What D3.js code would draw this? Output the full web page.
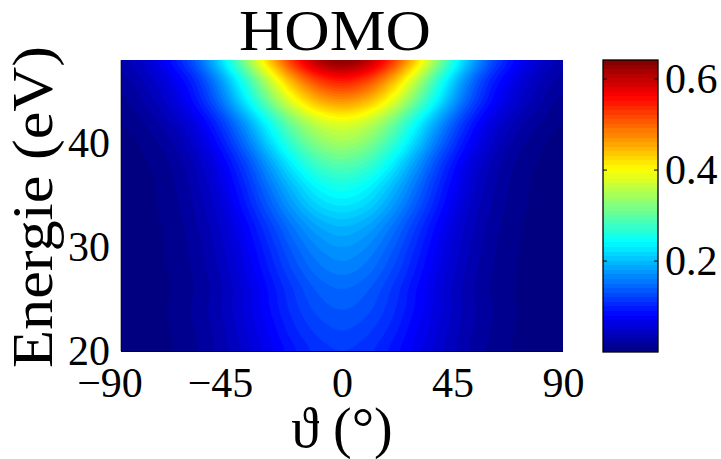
<!DOCTYPE html>
<html>
<head>
<meta charset="utf-8">
<script src="https://cdn.jsdelivr.net/npm/d3@7/dist/d3.min.js"></script>
<style>
  html, body { margin: 0; padding: 0; background: #fff; }
  svg { display: block; }
  text { font-family: "Liberation Serif", "Times New Roman", serif; fill: #000; }
</style>
</head>
<body>
<svg id="chart" width="721" height="459"></svg>
<script>
// ---------------- data ----------------
const chartTitle = "HOMO";
const xLabel = "ϑ (°)";
const yLabel = "Energie (eV)";
const thetaValues = [-90, -80, -70, -60, -50, -40, -30, -20, -10, 0, 10, 20, 30, 40, 50, 60, 70, 80, 90];
const energyValues = [20, 22, 24, 26, 28, 30, 32, 34, 36, 38, 40, 42, 44, 46, 48];
// intensity rows, one per energy (bottom to top), one value per theta
const intensity = [
  [0.002,0.004,0.009,0.018,0.033,0.052,0.075,0.097,0.114,0.120,0.114,0.097,0.075,0.052,0.033,0.018,0.009,0.004,0.002],
  [0.002,0.005,0.010,0.020,0.035,0.057,0.081,0.106,0.123,0.130,0.123,0.106,0.081,0.057,0.035,0.020,0.010,0.005,0.002],
  [0.002,0.005,0.011,0.022,0.038,0.061,0.088,0.114,0.133,0.140,0.133,0.114,0.088,0.061,0.038,0.022,0.011,0.005,0.002],
  [0.002,0.004,0.010,0.020,0.037,0.062,0.091,0.120,0.142,0.150,0.142,0.120,0.091,0.062,0.037,0.020,0.010,0.004,0.002],
  [0.002,0.005,0.011,0.022,0.041,0.068,0.100,0.132,0.156,0.165,0.156,0.132,0.100,0.068,0.041,0.022,0.011,0.005,0.002],
  [0.002,0.005,0.012,0.024,0.045,0.074,0.109,0.144,0.170,0.180,0.170,0.144,0.109,0.074,0.045,0.024,0.012,0.005,0.002],
  [0.002,0.006,0.013,0.027,0.050,0.082,0.121,0.160,0.189,0.200,0.189,0.160,0.121,0.082,0.050,0.027,0.013,0.006,0.002],
  [0.003,0.007,0.015,0.031,0.057,0.095,0.140,0.184,0.218,0.230,0.218,0.184,0.140,0.095,0.057,0.031,0.015,0.007,0.003],
  [0.003,0.007,0.017,0.035,0.065,0.107,0.158,0.208,0.246,0.260,0.246,0.208,0.158,0.107,0.065,0.035,0.017,0.007,0.003],
  [0.004,0.009,0.020,0.041,0.075,0.123,0.182,0.240,0.284,0.300,0.284,0.240,0.182,0.123,0.075,0.041,0.020,0.009,0.004],
  [0.006,0.013,0.028,0.054,0.094,0.150,0.216,0.280,0.327,0.345,0.327,0.280,0.216,0.150,0.094,0.054,0.028,0.013,0.006],
  [0.010,0.021,0.040,0.069,0.116,0.179,0.251,0.321,0.371,0.390,0.371,0.321,0.251,0.179,0.116,0.069,0.040,0.021,0.010],
  [0.016,0.032,0.056,0.093,0.150,0.226,0.311,0.391,0.449,0.470,0.449,0.391,0.311,0.226,0.150,0.093,0.056,0.032,0.016],
  [0.025,0.042,0.070,0.110,0.176,0.264,0.364,0.458,0.525,0.550,0.525,0.458,0.364,0.264,0.176,0.110,0.070,0.042,0.025],
  [0.035,0.055,0.090,0.140,0.218,0.320,0.434,0.538,0.613,0.640,0.613,0.538,0.434,0.320,0.218,0.140,0.090,0.055,0.035]
];
const xTicks = [-90, -45, 0, 45, 90];
const yTicks = [20, 30, 40];
const colorTicks = [0.2, 0.4, 0.6];
const colorRange = [0.0, 0.642];

// ---------------- layout ----------------
const plot = { left: 121, right: 563, top: 60, bottom: 351 };
const cbar = { left: 603, right: 658, top: 60, bottom: 352 };
const svg = d3.select("#chart");

const x = d3.scaleLinear().domain([d3.min(thetaValues), d3.max(thetaValues)]).range([plot.left, plot.right]);
const y = d3.scaleLinear().domain([20, 48]).range([plot.bottom, plot.top]);

function jet(f) {
  f = Math.max(0, Math.min(1, f));
  const c = v => Math.max(0, Math.min(1, v));
  const r = c(1.5 - Math.abs(4 * f - 3));
  const g = c(1.5 - Math.abs(4 * f - 2));
  const b = c(1.5 - Math.abs(4 * f - 1));
  return d3.rgb(r * 255, g * 255, b * 255).toString();
}
const colorScale = v => jet((v - colorRange[0]) / (colorRange[1] - colorRange[0]));

// ---------- filled contours (rendering grid refined with Catmull-Rom for smooth edges) ----------
const nT = thetaValues.length, nE = energyValues.length;
const k = 8;
const nx = (nT - 1) * k + 1, ny = (nE - 1) * k + 1;
function cr(p0, p1, p2, p3, t) {
  return 0.5 * ((2 * p1) + (-p0 + p2) * t + (2 * p0 - 5 * p1 + 4 * p2 - p3) * t * t + (-p0 + 3 * p1 - 3 * p2 + p3) * t * t * t);
}
const val = (e, t) => intensity[Math.max(0, Math.min(nE - 1, e))][Math.max(0, Math.min(nT - 1, t))];
function sample(ej, ti) {
  const e1 = Math.min(Math.floor(ej), nE - 2), fe = ej - e1;
  const t1 = Math.min(Math.floor(ti), nT - 2), ft = ti - t1;
  const rows = [-1, 0, 1, 2].map(de => cr(val(e1 + de, t1 - 1), val(e1 + de, t1), val(e1 + de, t1 + 1), val(e1 + de, t1 + 2), ft));
  return cr(rows[0], rows[1], rows[2], rows[3], fe);
}
const grid = new Float64Array(nx * ny);
for (let j = 0; j < ny; j++) {
  const ej = (ny - 1 - j) / k; // grid row 0 is the top (highest energy)
  for (let i = 0; i < nx; i++) grid[j * nx + i] = sample(ej, i / k);
}
const gx = d3.scaleLinear().domain([0.5, nx - 0.5]).range([plot.left, plot.right]);
const gy = d3.scaleLinear().domain([0.5, ny - 0.5]).range([plot.top, plot.bottom]);
const proj = d3.geoTransform({ point: function (px, py) { this.stream.point(gx(px), gy(py)); } });
const path = d3.geoPath(proj);

const step = 0.01;
const levels = d3.range(0, colorRange[1] + step, step);
const contours = d3.contours().size([nx, ny]).thresholds(levels)(Array.from(grid));

const defs = svg.append("defs");
defs.append("clipPath").attr("id", "plotclip")
  .append("rect").attr("x", plot.left).attr("y", plot.top)
  .attr("width", plot.right - plot.left).attr("height", plot.bottom - plot.top);

const gPlot = svg.append("g").attr("clip-path", "url(#plotclip)");
gPlot.append("rect").attr("x", plot.left).attr("y", plot.top)
  .attr("width", plot.right - plot.left).attr("height", plot.bottom - plot.top)
  .attr("fill", colorScale(0));
gPlot.selectAll("path.band").data(contours).join("path")
  .attr("class", "band")
  .attr("d", path)
  .attr("fill", d => colorScale(d.value))
  .attr("stroke", d => colorScale(d.value))
  .attr("stroke-width", 0.6);

// axis lines (left and bottom)
svg.append("line").attr("x1", plot.left).attr("x2", plot.left).attr("y1", plot.top).attr("y2", plot.bottom)
  .attr("stroke", "#000").attr("stroke-width", 1).attr("opacity", 0.6);
svg.append("line").attr("x1", plot.left).attr("x2", plot.right).attr("y1", plot.bottom + 0.5).attr("y2", plot.bottom + 0.5)
  .attr("stroke", "#000").attr("stroke-width", 1);

// x axis labels
const fmt = d => d < 0 ? "\u2212" + Math.abs(d) : String(d);
const xAxis = d3.axisBottom(x).tickValues(xTicks).tickFormat(fmt).tickSize(0).tickPadding(0);
const gxAx = svg.append("g").attr("transform", `translate(0,${plot.bottom})`).call(xAxis);
gxAx.select(".domain").remove();
gxAx.selectAll("text")
  .attr("y", 46).attr("dy", null)
  .attr("font-size", 42)
  .attr("fill", "#000")
  .attr("dx", d => d < 0 ? -11.5 : 0);

// y axis labels
const yAxis = d3.axisLeft(y).tickValues(yTicks).tickFormat(d => String(d)).tickSize(0).tickPadding(0);
const gyAx = svg.append("g").attr("transform", `translate(${plot.left},0)`).call(yAxis);
gyAx.select(".domain").remove();
gyAx.selectAll("text")
  .attr("x", -11).attr("dy", "0.31em")
  .attr("font-size", 42)
  .attr("fill", "#000");

// title and axis titles
svg.append("text").attr("x", 335).attr("y", 50).attr("text-anchor", "middle")
  .attr("font-size", 57).attr("textLength", 192).attr("lengthAdjust", "spacingAndGlyphs").text(chartTitle);
svg.append("text").attr("x", 342).attr("y", 447).attr("text-anchor", "middle")
  .attr("font-size", 56).text(xLabel);
svg.append("text").attr("transform", "translate(52,207) rotate(-90)").attr("text-anchor", "middle")
  .attr("font-size", 56).attr("textLength", 322).attr("lengthAdjust", "spacingAndGlyphs").text(yLabel);

// ---------------- colorbar ----------------
const cy = d3.scaleLinear().domain(colorRange).range([cbar.bottom, cbar.top]);
const grad = defs.append("linearGradient").attr("id", "jetgrad")
  .attr("x1", 0).attr("y1", 1).attr("x2", 0).attr("y2", 0);
d3.range(0, 64).forEach(i => {
  grad.append("stop").attr("offset", i / 64).attr("stop-color", jet((i + 0.5) / 64));
  grad.append("stop").attr("offset", (i + 1) / 64).attr("stop-color", jet((i + 0.5) / 64));
});
svg.append("rect").attr("x", cbar.left).attr("y", cbar.top)
  .attr("width", cbar.right - cbar.left).attr("height", cbar.bottom - cbar.top)
  .attr("fill", "url(#jetgrad)").attr("stroke", "#000").attr("stroke-width", 1.3);
const cAxis = d3.axisRight(cy).tickValues(colorTicks).tickFormat(d3.format(".1f")).tickSize(0).tickPadding(0);
const gc = svg.append("g").attr("transform", `translate(${cbar.right},0)`).call(cAxis);
gc.select(".domain").remove();
gc.selectAll("text").attr("x", 7).attr("dy", "0.33em")
  .attr("font-size", 42).attr("fill", "#000");
// small inward tick marks on both sides of colorbar
svg.append("g").selectAll("line").data(colorTicks).join("line")
  .attr("x1", cbar.left).attr("x2", cbar.left + 4)
  .attr("y1", d => cy(d)).attr("y2", d => cy(d)).attr("stroke", "#000");
svg.append("g").selectAll("line").data(colorTicks).join("line")
  .attr("x1", cbar.right - 4).attr("x2", cbar.right)
  .attr("y1", d => cy(d)).attr("y2", d => cy(d)).attr("stroke", "#000");
</script>
</body>
</html>
